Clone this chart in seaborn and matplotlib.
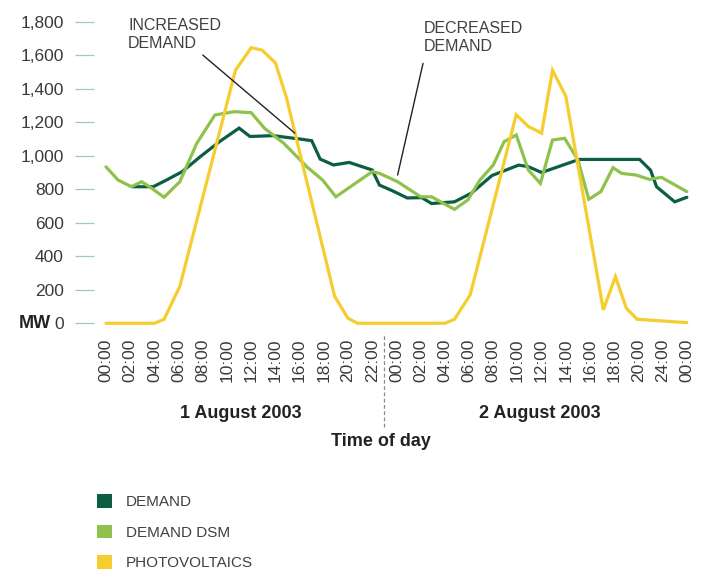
import pandas as pd
import matplotlib
matplotlib.use('Agg')
import matplotlib.pyplot as plt
import seaborn as sns
from matplotlib.patches import Patch

# 数据：小时（从8月1日00:00起）与功率（MW）
demand_hours = [2.2, 3.9, 5.0, 6.3, 7.8, 9.4, 11.0, 11.9, 13.8, 16.0, 17.0, 17.7, 18.8, 20.1,
                22.0, 22.6, 23.7, 24.9, 26.1, 26.9, 28.8, 30.2, 31.9, 34.1, 34.9, 36.0,
                39.1, 44.1, 45.0, 45.5, 47.0, 48.0]
demand_mw = [815, 815, 855, 905, 995, 1085, 1165, 1115, 1120, 1100, 1090, 980, 945, 960,
             915, 825, 790, 748, 750, 715, 725, 777, 882, 944, 935, 900,
             978, 978, 914, 815, 725, 752]

dsm_hours = [0, 1, 2.1, 2.95, 3.8, 4.8, 6.1, 7.5, 9.0, 10.6, 12.0, 13.1, 14.7, 16.6, 17.9, 19.0,
             22.0, 22.6, 24.1, 26.0, 26.9, 28.8, 29.9, 30.9, 32.0, 32.9, 33.9, 34.9, 35.9,
             36.9, 37.9, 39.0, 39.9, 40.9, 41.9, 42.6, 43.8, 44.9, 45.9, 48.0]
dsm_mw = [934, 855, 815, 845, 805, 752, 845, 1074, 1243, 1263, 1257, 1164, 1074, 934, 855, 755,
          905, 895, 845, 755, 755, 680, 736, 855, 944, 1084, 1124, 915, 835,
          1094, 1104, 975, 740, 786, 929, 895, 885, 859, 871, 786]

pv_hours = [0, 4.0, 4.8, 6.1, 10.7, 12.0, 12.9, 14.0, 14.9, 18.9, 20.0, 20.8,
            28.0, 28.8, 30.1, 33.9, 34.9, 36.0, 36.9, 38.0, 41.1, 42.1, 43.0, 43.9, 48.0]
pv_mw = [0, 0, 24, 220, 1510, 1645, 1630, 1555, 1350, 160, 30, 0,
         0, 24, 170, 1245, 1175, 1135, 1510, 1355, 80, 278, 90, 24, 4]

series_names = ['DEMAND', 'DEMAND DSM', 'PHOTOVOLTAICS']
series_colors = ['#0b5e43', '#8fc24c', '#f5cd2e']

x_ticks = list(range(0, 49, 2))
x_tick_labels = ['00:00', '02:00', '04:00', '06:00', '08:00', '10:00', '12:00', '14:00',
                 '16:00', '18:00', '20:00', '22:00',
                 '00:00', '02:00', '04:00', '06:00', '08:00', '10:00', '12:00', '14:00',
                 '16:00', '18:00', '20:00', '24:00', '00:00']
y_ticks = list(range(0, 1801, 200))
y_tick_labels = ['0', '200', '400', '600', '800', '1,000', '1,200', '1,400', '1,600', '1,800']

day_labels = ['1 August 2003', '2 August 2003']

df = pd.concat([
    pd.DataFrame({'hour': demand_hours, 'MW': demand_mw, 'series': 'DEMAND'}),
    pd.DataFrame({'hour': dsm_hours, 'MW': dsm_mw, 'series': 'DEMAND DSM'}),
    pd.DataFrame({'hour': pv_hours, 'MW': pv_mw, 'series': 'PHOTOVOLTAICS'}),
], ignore_index=True)

sns.set_theme(style='white')
plt.rcParams['font.family'] = ['Liberation Sans', 'DejaVu Sans']

W, H = 705, 572


def fx(px):
    return px / W


def fy(py):
    return 1 - py / H


fig = plt.figure(figsize=(W / 100, H / 100), dpi=100)
ax = fig.add_axes([fx(94), fy(323.3), (689 - 94) / W, (323.3 - 21.7) / H])

sns.lineplot(data=df, x='hour', y='MW', hue='series', hue_order=series_names,
             palette=dict(zip(series_names, series_colors)), estimator=None,
             linewidth=2.3, legend=False, ax=ax)
for line in ax.lines:
    line.set_clip_on(False)
    line.set_solid_joinstyle('miter')

ax.set_xlim(-0.99, 48.18)
ax.set_ylim(0, 1800)
ax.set_xticks(x_ticks)
ax.set_xticklabels(x_tick_labels, rotation=90)
ax.set_yticks(y_ticks)
ax.set_yticklabels(y_tick_labels)
ax.set_xlabel('')
ax.set_ylabel('')
sns.despine(ax=ax, left=True, bottom=True)
ax.tick_params(axis='y', length=13.7, width=0.9, color='#9fcabd', pad=8,
               labelsize=12.5, labelcolor='#3a3a3a', left=True)
ax.tick_params(axis='x', length=0, pad=11, labelsize=12.5, labelcolor='#3a3a3a')

# MW 单位标签
fig.text(fx(51), fy(323.5), 'MW', ha='right', va='center', fontsize=13,
         fontweight='bold', color='#222222')

# 日期分隔线
ax.axvline(23, ymin=-0.344, ymax=-0.032, color='#8a8a8a', lw=0.9,
           ls=(0, (3, 2)), clip_on=False)

fig.text(fx(241), fy(413), day_labels[0], ha='center', va='center', fontsize=13,
         fontweight='bold', color='#222222')
fig.text(fx(540), fy(413), day_labels[1], ha='center', va='center', fontsize=13,
         fontweight='bold', color='#222222')
fig.text(fx(381), fy(441), 'Time of day', ha='center', va='center', fontsize=13,
         fontweight='bold', color='#222222')

# 注释
fig.text(fx(128), fy(17.5), 'INCREASED\nDEMAND', ha='left', va='top', fontsize=11.5,
         color='#404040', linespacing=1.25)
fig.text(fx(424), fy(21), 'DECREASED\nDEMAND', ha='left', va='top', fontsize=11.5,
         color='#404040', linespacing=1.25)
ax.annotate('', xy=(15.6, 1135), xytext=(8.0, 1601),
            arrowprops=dict(arrowstyle='-', color='#222222', lw=1.0, shrinkA=0, shrinkB=0),
            annotation_clip=False)
ax.annotate('', xy=(24.1, 885), xytext=(26.2, 1551),
            arrowprops=dict(arrowstyle='-', color='#222222', lw=1.0, shrinkA=0, shrinkB=0),
            annotation_clip=False)

# 图例
handles = [Patch(facecolor=c, edgecolor='none', label=n) for n, c in zip(series_names, series_colors)]
leg = fig.legend(handles=handles, loc='upper left', bbox_to_anchor=(fx(97), fy(494)),
                 frameon=False, fontsize=11, handlelength=1.0, handleheight=1.0,
                 handletextpad=0.9, labelspacing=1.02, borderpad=0, borderaxespad=0)
for t in leg.get_texts():
    t.set_color('#404040')

fig.savefig('out.png', dpi=100)
